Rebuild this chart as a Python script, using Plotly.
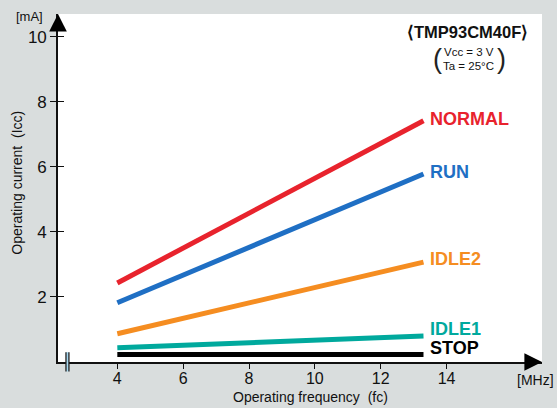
import plotly.graph_objects as go

# ---- data ----
fc = [4, 13.3]
normal = [2.43, 7.42]
run = [1.82, 5.78]
idle2 = [0.87, 3.07]
idle1 = [0.44, 0.80]
stop = [0.23, 0.23]

series_names = ["NORMAL", "RUN", "IDLE2", "IDLE1", "STOP"]
series_vals = [normal, run, idle2, idle1, stop]
series_colors = ["#e8232d", "#1f6fc4", "#f58d21", "#00a99d", "#000000"]
label_yshift = [2, 2, 3, 7, 7]

x_ticks = [4, 6, 8, 10, 12, 14]
y_ticks = [2, 4, 6, 8, 10]

FONT = "Liberation Sans, Arial, Helvetica, sans-serif"
BG = "#d9dddd"

fig = go.Figure()
for name, vals, col in zip(series_names, series_vals, series_colors):
    fig.add_trace(go.Scatter(x=fc, y=vals, mode="lines", name=name,
                             line=dict(color=col, width=5), showlegend=False,
                             hoverinfo="skip"))

annotations = []
for name, vals, col, ys in zip(series_names, series_vals, series_colors, label_yshift):
    annotations.append(dict(x=fc[-1], y=vals[-1], xref="x", yref="y", text=f"<b>{name}</b>",
                            showarrow=False, xanchor="left", yanchor="middle", xshift=5, yshift=ys,
                            font=dict(family=FONT, size=18, color=col)))

# axis arrows
annotations.append(dict(x=0, y=1, xref="paper", yref="paper", ax=0, ay=16,
                        showarrow=True, arrowhead=2, arrowsize=2.2, arrowwidth=1.6, arrowcolor="#000",
                        text="", standoff=0))
annotations.append(dict(x=1, y=0, xref="paper", yref="paper", ax=-16, ay=0,
                        showarrow=True, arrowhead=2, arrowsize=2.2, arrowwidth=1.6, arrowcolor="#000",
                        text="", standoff=0))


def txt(x, y, text, size, angle=0, color="#111"):
    return dict(x=x, y=y, xref="paper", yref="paper", text=text, showarrow=False,
                xanchor="center", yanchor="middle", textangle=angle,
                font=dict(family=FONT, size=size, color=color))


annotations += [
    txt(-0.058, 0.992, "[mA]", 13),
    txt(-0.0835, 0.514, "Operating current  (Icc)", 14, angle=-90),
    txt(0.521, -0.101, "Operating frequency  (fc)", 14),
    txt(0.986, -0.053, "[MHz]", 14),
    txt(0.846, 0.948, "<b>⟨TMP93CM40F⟩</b>", 16.5),
    txt(0.849, 0.890, "Vcc = 3 V", 11.5),
    txt(0.849, 0.850, "Ta = 25°C", 11.5),
    txt(0.7836, 0.871, "(", 27, color="#222"),
    txt(0.916, 0.871, ")", 27, color="#222"),
]

shapes = [
    dict(type="rect", xref="x", yref="paper", x0=2.44, x1=2.53, y0=-0.027, y1=0.028,
         fillcolor="#a9daf2", line=dict(width=0), layer="above"),
    dict(type="line", xref="x", yref="paper", x0=2.44, x1=2.44, y0=-0.027, y1=0.028,
         line=dict(color="#222", width=1.3), layer="above"),
    dict(type="line", xref="x", yref="paper", x0=2.53, x1=2.53, y0=-0.027, y1=0.028,
         line=dict(color="#222", width=1.3), layer="above"),
]

fig.update_layout(
    width=557, height=408,
    margin=dict(l=58, r=15, t=14, b=46),
    paper_bgcolor=BG, plot_bgcolor="white",
    font=dict(family=FONT, size=15, color="#111"),
    xaxis=dict(range=[2.198, 16.9], tickvals=x_ticks, showgrid=False, zeroline=False,
               showline=True, linecolor="#111", linewidth=1.6, ticks="outside", ticklen=5,
               tickcolor="#111", tickwidth=1.2, tickfont=dict(size=16), ticklabelstandoff=-4,
               fixedrange=True),
    yaxis=dict(range=[0, 10.7], tickvals=y_ticks, showgrid=False, zeroline=False,
               showline=True, linecolor="#111", linewidth=1.6, ticks="outside", ticklen=6,
               tickcolor="#111", tickwidth=1.2, tickfont=dict(size=17), fixedrange=True),
    yaxis2=dict(range=[0, 10.7], tickvals=y_ticks, overlaying="y", side="left", anchor="x",
                showgrid=False, zeroline=False, showline=False, ticks="inside", ticklen=6,
                tickcolor="#111", tickwidth=1.2, showticklabels=False, fixedrange=True),
    annotations=annotations, shapes=shapes,
)
fig.add_trace(go.Scatter(x=[fc[0]], y=[stop[0]], yaxis="y2", mode="markers",
                         marker=dict(opacity=0), showlegend=False, hoverinfo="skip"))

fig.write_html("out.html", config={"displayModeBar": False},
               post_script="document.body.style.margin='0';document.body.style.overflow='hidden';")
